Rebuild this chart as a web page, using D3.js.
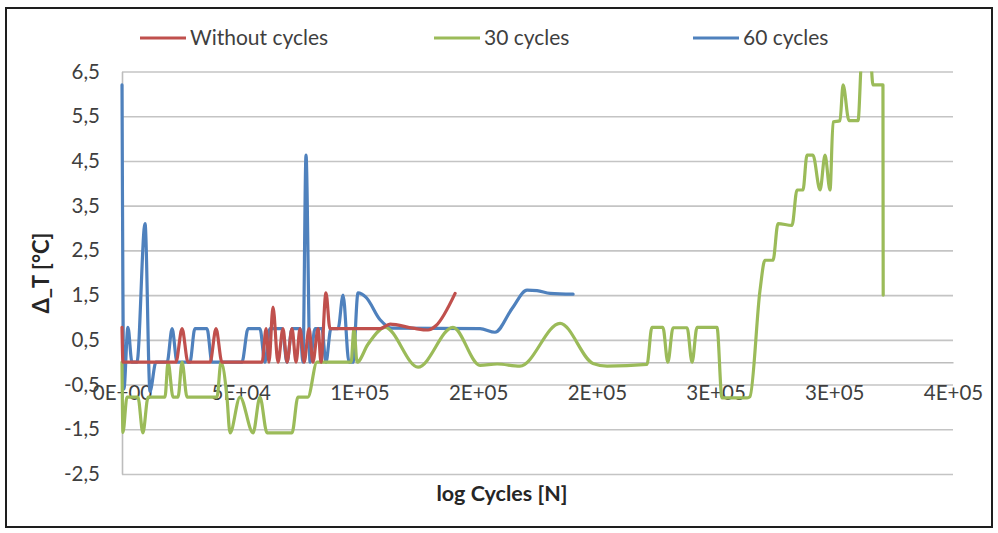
<!DOCTYPE html>
<html>
<head>
<meta charset="utf-8">
<script src="https://cdn.jsdelivr.net/npm/d3@7/dist/d3.min.js"></script>
<style>
  html, body { margin: 0; padding: 0; background: #ffffff; }
  svg { display: block; }
  text { font-family: Lato, "Open Sans", sans-serif; }
</style>
</head>
<body>
<svg id="chart" width="998" height="533"></svg>
<script>
// ---- data: [cycles, ΔT in °C] ----
const seriesNames = ["Without cycles", "30 cycles", "60 cycles"];

const withoutCycles = [
  [0, 0.78], [400, 0], [22700, 0], [25300, 0.75], [27800, 0], [37100, 0],
  [39600, 0.75], [42100, 0], [59000, 0], [60700, 0.75], [61900, 0],
  [63600, 1.23], [65700, 0], [67800, 0.75], [69500, 0], [71600, 0.75],
  [73300, 0], [75000, 0.75], [76700, 0], [78800, 0.75], [80400, 0],
  [82600, 0.75], [83800, 0], [85900, 1.55], [87600, 0.75], [108700, 0.75],
  [112900, 0.85], [122600, 0.76], [128900, 0.72], [132300, 0.82], [140300, 1.54]
];

const cycles30 = [
  [0, 0], [400, -1.57], [2100, -0.78], [6700, -0.78], [8800, -1.58],
  [11000, -0.78], [18100, -0.78], [19400, 0], [21500, -0.78], [23600, -0.78],
  [25300, 0], [27400, -0.78], [40000, -0.78], [41700, 0], [44200, -0.78],
  [45500, -1.58], [49700, -0.78], [55200, -1.58], [58100, -0.78],
  [61100, -1.58], [71600, -1.58], [74100, -0.78], [78300, -0.78], [82100, 0],
  [96500, 0], [97700, 0.76], [99000, 0], [103600, 0.4], [110800, 0.78],
  [124700, -0.11], [139400, 0.78], [150800, -0.07], [158000, -0.04],
  [167600, -0.09], [184500, 0.87], [198400, -0.03], [204300, -0.09],
  [221100, -0.05], [223200, 0.78], [227800, 0.78], [229900, 0],
  [232100, 0.77], [238000, 0.77], [240100, 0], [242200, 0.78],
  [250600, 0.78], [252700, -0.8], [263300, -0.8], [264500, -0.77],
  [268700, 1.6], [270800, 2.28], [274200, 2.28], [276300, 3.1],
  [282200, 3.06], [284300, 3.85], [286800, 3.85], [288500, 4.63],
  [291000, 4.63], [294000, 3.85], [296100, 4.63], [298200, 3.85],
  [299500, 5.37], [302400, 5.4], [303700, 6.2], [306200, 5.4],
  [310000, 5.4], [311700, 6.9], [315100, 6.9], [316300, 6.2],
  [320500, 6.2], [320600, 1.5]
];

const cycles60 = [
  [0, 6.2], [800, -0.6], [2500, 0.78], [4200, 0], [6300, 0], [9700, 3.1],
  [11800, -0.65], [14300, 0], [19000, 0], [21100, 0.75], [23200, 0],
  [28600, 0], [30700, 0.75], [35800, 0.75], [37900, 0], [50500, 0],
  [53100, 0.75], [58100, 0.75], [60200, 0], [62300, 0.75], [67400, 0.75],
  [69500, 0], [71600, 0.75], [75000, 0.75], [76200, 0], [77500, 4.63],
  [79200, 0], [81300, 0.75], [84200, 0.75], [85900, 0], [88000, 0.75],
  [91000, 0.75], [93100, 1.5], [95600, 0], [97300, 0], [99400, 1.55],
  [102800, 1.45], [108700, 0.95], [113700, 0.76], [150800, 0.75],
  [157100, 0.67], [164300, 1.2], [170600, 1.61], [174800, 1.6],
  [180300, 1.54], [190000, 1.52]
];

const yTicks = [-2.5, -1.5, -0.5, 0.5, 1.5, 2.5, 3.5, 4.5, 5.5, 6.5];
const xTicks = [0, 50000, 100000, 150000, 200000, 250000, 300000, 350000];
const xTickLabels = ["0E+00", "5E+04", "1E+05", "2E+05", "2E+05", "3E+05", "3E+05", "4E+05"];

// ---- styling ----
const seriesColors = ["#C0504D", "#9BBB59", "#4F81BD"];
const plot = { left: 122, right: 953, top: 71.5, bottom: 474 };
const labelColor = "#3f3f3f";
const tickFont = 20.5;

const svg = d3.select("#chart");

// chart frame
svg.append("rect")
  .attr("x", 6).attr("y", 8).attr("width", 986).attr("height", 519)
  .attr("fill", "#ffffff").attr("stroke", "#1e1e1e").attr("stroke-width", 2);

const x = d3.scaleLinear().domain([0, 350000]).range([plot.left, plot.right]);
const y = d3.scaleLinear().domain([-2.5, 6.5]).range([plot.bottom, plot.top]);

// horizontal gridlines
const grid = svg.append("g")
  .attr("transform", `translate(${plot.left},0)`)
  .call(d3.axisLeft(y).tickValues(yTicks).tickSize(-(plot.right - plot.left)).tickFormat(""));
grid.select(".domain").remove();
grid.selectAll("line").attr("stroke", "#c4c4c4").attr("stroke-width", 1.6);

// value axis (comma decimals, plain hyphen for negatives)
const fmtY = d => d.toFixed(1).replace(".", ",");
const yAxis = svg.append("g")
  .attr("transform", `translate(${plot.left},0)`)
  .call(d3.axisLeft(y).tickValues(yTicks).tickSize(0).tickSizeOuter(0).tickPadding(22)
    .tickFormat(fmtY));
yAxis.select(".domain").attr("stroke", "#bdbdbd").attr("stroke-width", 1.6);
yAxis.selectAll("text").attr("font-size", tickFont).attr("fill", labelColor)
  .attr("font-family", "Lato, sans-serif");

// category axis crossing at zero
const xAxis = svg.append("g")
  .attr("transform", `translate(0,${y(0)})`)
  .call(d3.axisBottom(x).tickValues(xTicks).tickSize(0).tickSizeOuter(0).tickPadding(23.5)
    .tickFormat((d, i) => xTickLabels[i]));
xAxis.select(".domain").attr("stroke", "#bdbdbd").attr("stroke-width", 1.6);
xAxis.selectAll("text").attr("font-size", tickFont).attr("fill", labelColor)
  .attr("font-family", "Lato, sans-serif");

// series lines
svg.append("clipPath").attr("id", "plotClip")
  .append("rect")
  .attr("x", plot.left - 4).attr("y", plot.top)
  .attr("width", plot.right - plot.left + 4).attr("height", plot.bottom - plot.top);

const line = d3.line()
  .x(d => x(d[0]))
  .y(d => y(d[1]))
  .curve(d3.curveMonotoneX);

const allSeries = [withoutCycles, cycles30, cycles60];
const drawOrder = [2, 1, 0];
const lines = svg.append("g").attr("clip-path", "url(#plotClip)");
drawOrder.forEach(i => {
  lines.append("path")
    .datum(allSeries[i])
    .attr("fill", "none")
    .attr("stroke", seriesColors[i])
    .attr("stroke-width", 3.2)
    .attr("stroke-linejoin", "round")
    .attr("stroke-linecap", "round")
    .attr("d", line);
});

// legend
const legendX = [140, 434, 693];
const legend = svg.append("g");
seriesNames.forEach((name, i) => {
  legend.append("line")
    .attr("x1", legendX[i]).attr("x2", legendX[i] + 46)
    .attr("y1", 38).attr("y2", 38)
    .attr("stroke", seriesColors[i]).attr("stroke-width", 3.2);
  legend.append("text")
    .attr("x", legendX[i] + 50).attr("y", 45)
    .attr("font-size", 21).attr("fill", labelColor)
    .text(name);
});

// axis titles
svg.append("text")
  .attr("transform", "translate(49,273) rotate(-90)")
  .attr("text-anchor", "middle")
  .attr("font-size", 22).attr("font-weight", "bold").attr("fill", "#262626")
  .text("Δ_T [°C]");

svg.append("text")
  .attr("x", 502).attr("y", 501)
  .attr("text-anchor", "middle")
  .attr("font-size", 21.5).attr("font-weight", "bold").attr("fill", "#262626")
  .text("log Cycles [N]");
</script>
</body>
</html>
